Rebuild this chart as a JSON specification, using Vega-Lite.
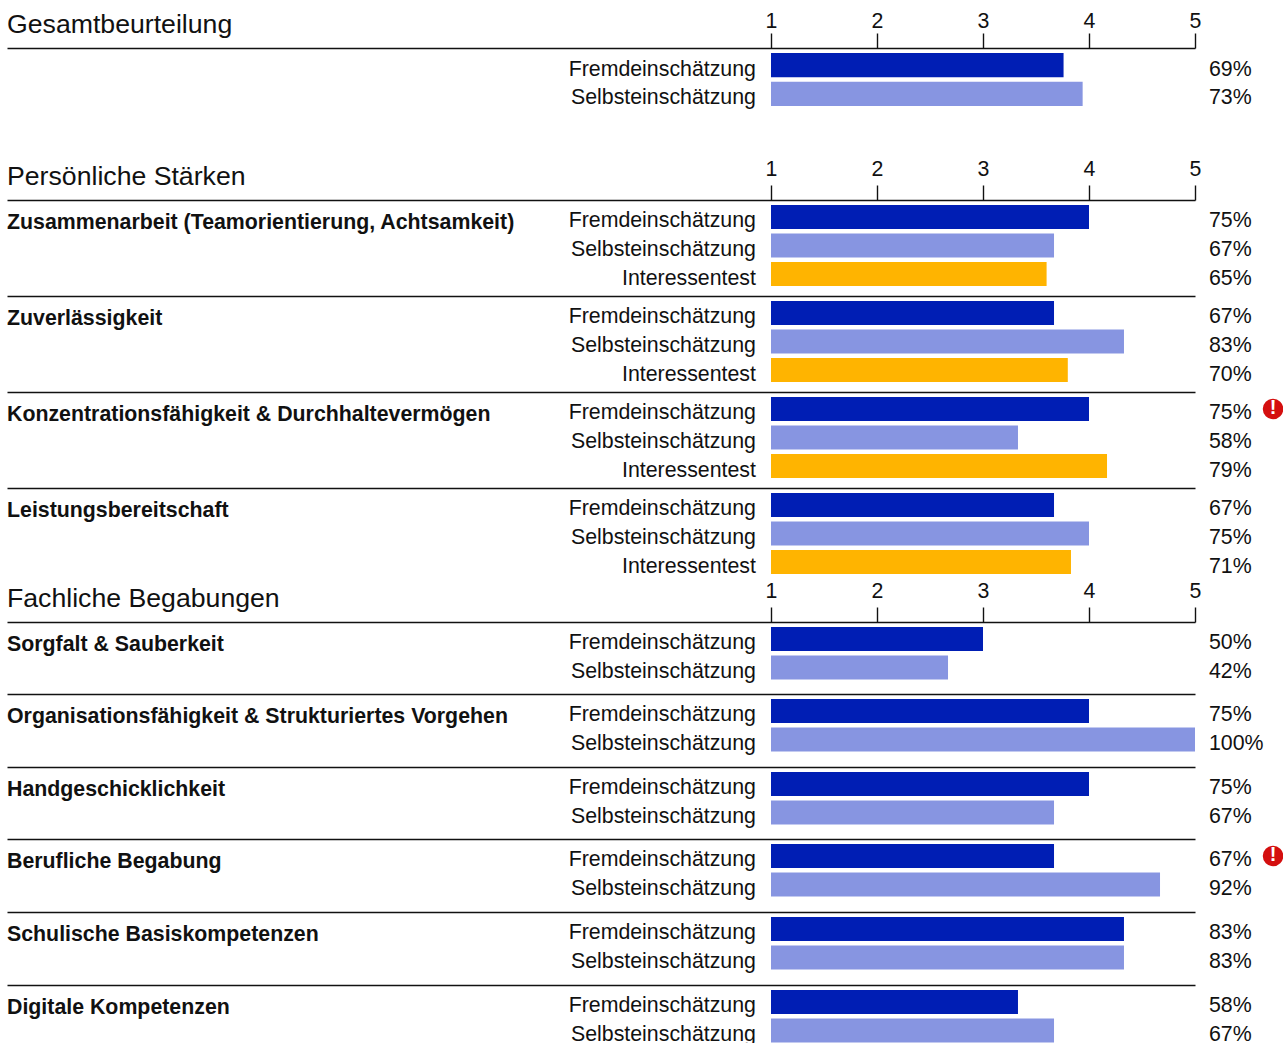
{"$schema":"https://vega.github.io/schema/vega-lite/v6.json","padding":{"left":6,"top":10,"right":0,"bottom":0},"spacing":0,"background":"white",
"config":{"view":{"stroke":null},"font":"Liberation Sans","concat":{"spacing":0},"text":{"font":"Liberation Sans","fontSize":21.33,"color":"#111111"}},
"datasets":{"rows":[
{"group":"Gesamtbeurteilung","title":"","source":"Fremdeinschätzung","score":3.76,"pct":"69%"},
{"group":"Gesamtbeurteilung","title":"","source":"Selbsteinschätzung","score":3.94,"pct":"73%"},
{"group":"Zusammenarbeit","title":"Zusammenarbeit (Teamorientierung, Achtsamkeit)","source":"Fremdeinschätzung","score":4,"pct":"75%"},
{"group":"Zusammenarbeit","title":"","source":"Selbsteinschätzung","score":3.67,"pct":"67%"},
{"group":"Zusammenarbeit","title":"","source":"Interessentest","score":3.6,"pct":"65%"},
{"group":"Zuverlässigkeit","title":"Zuverlässigkeit","source":"Fremdeinschätzung","score":3.67,"pct":"67%"},
{"group":"Zuverlässigkeit","title":"","source":"Selbsteinschätzung","score":4.33,"pct":"83%"},
{"group":"Zuverlässigkeit","title":"","source":"Interessentest","score":3.8,"pct":"70%"},
{"group":"Konzentration","title":"Konzentrationsfähigkeit & Durchhaltevermögen","source":"Fremdeinschätzung","score":4,"pct":"75%","flag":true},
{"group":"Konzentration","title":"","source":"Selbsteinschätzung","score":3.33,"pct":"58%"},
{"group":"Konzentration","title":"","source":"Interessentest","score":4.17,"pct":"79%"},
{"group":"Leistung","title":"Leistungsbereitschaft","source":"Fremdeinschätzung","score":3.67,"pct":"67%"},
{"group":"Leistung","title":"","source":"Selbsteinschätzung","score":4,"pct":"75%"},
{"group":"Leistung","title":"","source":"Interessentest","score":3.83,"pct":"71%"},
{"group":"Sorgfalt","title":"Sorgfalt & Sauberkeit","source":"Fremdeinschätzung","score":3,"pct":"50%"},
{"group":"Sorgfalt","title":"","source":"Selbsteinschätzung","score":2.67,"pct":"42%"},
{"group":"Organisation","title":"Organisationsfähigkeit & Strukturiertes Vorgehen","source":"Fremdeinschätzung","score":4,"pct":"75%"},
{"group":"Organisation","title":"","source":"Selbsteinschätzung","score":5,"pct":"100%"},
{"group":"Hand","title":"Handgeschicklichkeit","source":"Fremdeinschätzung","score":4,"pct":"75%"},
{"group":"Hand","title":"","source":"Selbsteinschätzung","score":3.67,"pct":"67%"},
{"group":"Beruf","title":"Berufliche Begabung","source":"Fremdeinschätzung","score":3.67,"pct":"67%","flag":true},
{"group":"Beruf","title":"","source":"Selbsteinschätzung","score":4.67,"pct":"92%"},
{"group":"Schule","title":"Schulische Basiskompetenzen","source":"Fremdeinschätzung","score":4.33,"pct":"83%"},
{"group":"Schule","title":"","source":"Selbsteinschätzung","score":4.33,"pct":"83%"},
{"group":"Digital","title":"Digitale Kompetenzen","source":"Fremdeinschätzung","score":3.33,"pct":"58%"},
{"group":"Digital","title":"","source":"Selbsteinschätzung","score":3.67,"pct":"67%"}
]},
"data":{"name":"rows"},
"vconcat":[
{"width":1188,"height":110,"transform":[{"filter":"datum.group=='Gesamtbeurteilung'"}],"encoding":{"y":{"field":"source","type":"nominal","axis":null,"sort":null,"scale":{"domain":["Fremdeinschätzung","Selbsteinschätzung"],"range":[5,58],"paddingInner":0.158,"paddingOuter":0}}},"layer":[
{"mark":{"type":"bar","clip":false},"encoding":{"x":{"field":"score","type":"quantitative","scale":{"domain":[-6.2075,5],"zero":false,"nice":false},"axis":{"orient":"top","values":[1,2,3,4,5],"format":"d","labelFlush":false,"labelOverlap":false,"grid":false,"domainColor":"#111111","domainWidth":1.4,"tickColor":"#111111","tickWidth":1.4,"tickSize":15,"labelFontSize":21.33,"labelColor":"#111111","labelPadding":2,"labelFont":"Liberation Sans","title":"Gesamtbeurteilung","titleFont":"Liberation Sans","titleFontSize":26.67,"titleFontWeight":"normal","titleColor":"#111111","titleX":-0.5,"titleY":-16,"titleAlign":"left","titleBaseline":"alphabetic","titleAnchor":"start"}},"x2":{"datum":1},"color":{"field":"source","legend":null,"scale":{"domain":["Fremdeinschätzung","Selbsteinschätzung","Interessentest"],"range":["#001EB4","#8795E1","#FFB400"]}}}},
{"mark":{"type":"text","align":"right","dy":4.5},"encoding":{"x":{"datum":0.858},"text":{"field":"source"}}},
{"mark":{"type":"text","align":"left","dy":4.5},"encoding":{"x":{"datum":5.132},"text":{"field":"pct"}}}
]},
{"width":1188,"height":96,"transform":[{"filter":"datum.group=='Zusammenarbeit'"}],"encoding":{"y":{"field":"source","type":"nominal","axis":null,"sort":null,"scale":{"domain":["Fremdeinschätzung","Selbsteinschätzung","Interessentest"],"range":[5,86],"paddingInner":0.158,"paddingOuter":0}}},"layer":[
{"mark":{"type":"bar","clip":false},"encoding":{"x":{"field":"score","type":"quantitative","scale":{"domain":[-6.2075,5],"zero":false,"nice":false},"axis":{"orient":"top","values":[1,2,3,4,5],"format":"d","labelFlush":false,"labelOverlap":false,"grid":false,"domainColor":"#111111","domainWidth":1.4,"tickColor":"#111111","tickWidth":1.4,"tickSize":15,"labelFontSize":21.33,"labelColor":"#111111","labelPadding":6,"labelFont":"Liberation Sans","title":"Persönliche Stärken","titleFont":"Liberation Sans","titleFontSize":26.67,"titleFontWeight":"normal","titleColor":"#111111","titleX":-0.5,"titleY":-16,"titleAlign":"left","titleBaseline":"alphabetic","titleAnchor":"start"}},"x2":{"datum":1},"color":{"field":"source","legend":null,"scale":{"domain":["Fremdeinschätzung","Selbsteinschätzung","Interessentest"],"range":["#001EB4","#8795E1","#FFB400"]}}}},
{"mark":{"type":"text","align":"right","dy":4.5},"encoding":{"x":{"datum":0.858},"text":{"field":"source"}}},
{"mark":{"type":"text","align":"left","dy":4.5},"encoding":{"x":{"datum":5.132},"text":{"field":"pct"}}},
{"mark":{"type":"text","align":"left","fontWeight":"bold","dy":6},"encoding":{"x":{"datum":-6.2075},"text":{"field":"title"}}}
]},
{"width":1188,"height":96,"transform":[{"filter":"datum.group=='Zuverlässigkeit'"}],"encoding":{"y":{"field":"source","type":"nominal","axis":null,"sort":null,"scale":{"domain":["Fremdeinschätzung","Selbsteinschätzung","Interessentest"],"range":[5,86],"paddingInner":0.158,"paddingOuter":0}}},"layer":[
{"mark":{"type":"bar","clip":false},"encoding":{"x":{"field":"score","type":"quantitative","scale":{"domain":[-6.2075,5],"zero":false,"nice":false},"axis":{"orient":"top","values":[],"grid":false,"ticks":false,"labels":false,"domainColor":"#111111","domainWidth":1.4,"title":null}},"x2":{"datum":1},"color":{"field":"source","legend":null,"scale":{"domain":["Fremdeinschätzung","Selbsteinschätzung","Interessentest"],"range":["#001EB4","#8795E1","#FFB400"]}}}},
{"mark":{"type":"text","align":"right","dy":4.5},"encoding":{"x":{"datum":0.858},"text":{"field":"source"}}},
{"mark":{"type":"text","align":"left","dy":4.5},"encoding":{"x":{"datum":5.132},"text":{"field":"pct"}}},
{"mark":{"type":"text","align":"left","fontWeight":"bold","dy":6},"encoding":{"x":{"datum":-6.2075},"text":{"field":"title"}}}
]},
{"width":1188,"height":96,"transform":[{"filter":"datum.group=='Konzentration'"}],"encoding":{"y":{"field":"source","type":"nominal","axis":null,"sort":null,"scale":{"domain":["Fremdeinschätzung","Selbsteinschätzung","Interessentest"],"range":[5,86],"paddingInner":0.158,"paddingOuter":0}}},"layer":[
{"mark":{"type":"bar","clip":false},"encoding":{"x":{"field":"score","type":"quantitative","scale":{"domain":[-6.2075,5],"zero":false,"nice":false},"axis":{"orient":"top","values":[],"grid":false,"ticks":false,"labels":false,"domainColor":"#111111","domainWidth":1.4,"title":null}},"x2":{"datum":1},"color":{"field":"source","legend":null,"scale":{"domain":["Fremdeinschätzung","Selbsteinschätzung","Interessentest"],"range":["#001EB4","#8795E1","#FFB400"]}}}},
{"mark":{"type":"text","align":"right","dy":4.5},"encoding":{"x":{"datum":0.858},"text":{"field":"source"}}},
{"mark":{"type":"text","align":"left","dy":4.5},"encoding":{"x":{"datum":5.132},"text":{"field":"pct"}}},
{"mark":{"type":"text","align":"left","fontWeight":"bold","dy":6},"encoding":{"x":{"datum":-6.2075},"text":{"field":"title"}}},
{"transform":[{"filter":"datum.flag"}],"mark":{"type":"point","filled":true,"opacity":1,"size":420,"color":"#D40F0F","dy":-1},"encoding":{"x":{"datum":5.736}}},
{"transform":[{"filter":"datum.flag"}],"mark":{"type":"text","text":"!","fontWeight":"bold","fontSize":20,"color":"white","dy":-1},"encoding":{"x":{"datum":5.736}}}
]},
{"width":1188,"height":92,"transform":[{"filter":"datum.group=='Leistung'"}],"encoding":{"y":{"field":"source","type":"nominal","axis":null,"sort":null,"scale":{"domain":["Fremdeinschätzung","Selbsteinschätzung","Interessentest"],"range":[5,86],"paddingInner":0.158,"paddingOuter":0}}},"layer":[
{"mark":{"type":"bar","clip":false},"encoding":{"x":{"field":"score","type":"quantitative","scale":{"domain":[-6.2075,5],"zero":false,"nice":false},"axis":{"orient":"top","values":[],"grid":false,"ticks":false,"labels":false,"domainColor":"#111111","domainWidth":1.4,"title":null}},"x2":{"datum":1},"color":{"field":"source","legend":null,"scale":{"domain":["Fremdeinschätzung","Selbsteinschätzung","Interessentest"],"range":["#001EB4","#8795E1","#FFB400"]}}}},
{"mark":{"type":"text","align":"right","dy":4.5},"encoding":{"x":{"datum":0.858},"text":{"field":"source"}}},
{"mark":{"type":"text","align":"left","dy":4.5},"encoding":{"x":{"datum":5.132},"text":{"field":"pct"}}},
{"mark":{"type":"text","align":"left","fontWeight":"bold","dy":6},"encoding":{"x":{"datum":-6.2075},"text":{"field":"title"}}}
]},
{"width":1188,"height":72,"transform":[{"filter":"datum.group=='Sorgfalt'"}],"encoding":{"y":{"field":"source","type":"nominal","axis":null,"sort":null,"scale":{"domain":["Fremdeinschätzung","Selbsteinschätzung"],"range":[5,57.5],"paddingInner":0.158,"paddingOuter":0}}},"layer":[
{"mark":{"type":"bar","clip":false},"encoding":{"x":{"field":"score","type":"quantitative","scale":{"domain":[-6.2075,5],"zero":false,"nice":false},"axis":{"orient":"top","values":[1,2,3,4,5],"format":"d","labelFlush":false,"labelOverlap":false,"grid":false,"domainColor":"#111111","domainWidth":1.4,"tickColor":"#111111","tickWidth":1.4,"tickSize":15,"labelFontSize":21.33,"labelColor":"#111111","labelPadding":6,"labelFont":"Liberation Sans","title":"Fachliche Begabungen","titleFont":"Liberation Sans","titleFontSize":26.67,"titleFontWeight":"normal","titleColor":"#111111","titleX":-0.5,"titleY":-16,"titleAlign":"left","titleBaseline":"alphabetic","titleAnchor":"start"}},"x2":{"datum":1},"color":{"field":"source","legend":null,"scale":{"domain":["Fremdeinschätzung","Selbsteinschätzung","Interessentest"],"range":["#001EB4","#8795E1","#FFB400"]}}}},
{"mark":{"type":"text","align":"right","dy":4.5},"encoding":{"x":{"datum":0.858},"text":{"field":"source"}}},
{"mark":{"type":"text","align":"left","dy":4.5},"encoding":{"x":{"datum":5.132},"text":{"field":"pct"}}},
{"mark":{"type":"text","align":"left","fontWeight":"bold","dy":6},"encoding":{"x":{"datum":-6.2075},"text":{"field":"title"}}}
]},
{"width":1188,"height":73,"transform":[{"filter":"datum.group=='Organisation'"}],"encoding":{"y":{"field":"source","type":"nominal","axis":null,"sort":null,"scale":{"domain":["Fremdeinschätzung","Selbsteinschätzung"],"range":[5,57.5],"paddingInner":0.158,"paddingOuter":0}}},"layer":[
{"mark":{"type":"bar","clip":false},"encoding":{"x":{"field":"score","type":"quantitative","scale":{"domain":[-6.2075,5],"zero":false,"nice":false},"axis":{"orient":"top","values":[],"grid":false,"ticks":false,"labels":false,"domainColor":"#111111","domainWidth":1.4,"title":null}},"x2":{"datum":1},"color":{"field":"source","legend":null,"scale":{"domain":["Fremdeinschätzung","Selbsteinschätzung","Interessentest"],"range":["#001EB4","#8795E1","#FFB400"]}}}},
{"mark":{"type":"text","align":"right","dy":4.5},"encoding":{"x":{"datum":0.858},"text":{"field":"source"}}},
{"mark":{"type":"text","align":"left","dy":4.5},"encoding":{"x":{"datum":5.132},"text":{"field":"pct"}}},
{"mark":{"type":"text","align":"left","fontWeight":"bold","dy":6},"encoding":{"x":{"datum":-6.2075},"text":{"field":"title"}}}
]},
{"width":1188,"height":72,"transform":[{"filter":"datum.group=='Hand'"}],"encoding":{"y":{"field":"source","type":"nominal","axis":null,"sort":null,"scale":{"domain":["Fremdeinschätzung","Selbsteinschätzung"],"range":[5,57.5],"paddingInner":0.158,"paddingOuter":0}}},"layer":[
{"mark":{"type":"bar","clip":false},"encoding":{"x":{"field":"score","type":"quantitative","scale":{"domain":[-6.2075,5],"zero":false,"nice":false},"axis":{"orient":"top","values":[],"grid":false,"ticks":false,"labels":false,"domainColor":"#111111","domainWidth":1.4,"title":null}},"x2":{"datum":1},"color":{"field":"source","legend":null,"scale":{"domain":["Fremdeinschätzung","Selbsteinschätzung","Interessentest"],"range":["#001EB4","#8795E1","#FFB400"]}}}},
{"mark":{"type":"text","align":"right","dy":4.5},"encoding":{"x":{"datum":0.858},"text":{"field":"source"}}},
{"mark":{"type":"text","align":"left","dy":4.5},"encoding":{"x":{"datum":5.132},"text":{"field":"pct"}}},
{"mark":{"type":"text","align":"left","fontWeight":"bold","dy":6},"encoding":{"x":{"datum":-6.2075},"text":{"field":"title"}}}
]},
{"width":1188,"height":73,"transform":[{"filter":"datum.group=='Beruf'"}],"encoding":{"y":{"field":"source","type":"nominal","axis":null,"sort":null,"scale":{"domain":["Fremdeinschätzung","Selbsteinschätzung"],"range":[5,57.5],"paddingInner":0.158,"paddingOuter":0}}},"layer":[
{"mark":{"type":"bar","clip":false},"encoding":{"x":{"field":"score","type":"quantitative","scale":{"domain":[-6.2075,5],"zero":false,"nice":false},"axis":{"orient":"top","values":[],"grid":false,"ticks":false,"labels":false,"domainColor":"#111111","domainWidth":1.4,"title":null}},"x2":{"datum":1},"color":{"field":"source","legend":null,"scale":{"domain":["Fremdeinschätzung","Selbsteinschätzung","Interessentest"],"range":["#001EB4","#8795E1","#FFB400"]}}}},
{"mark":{"type":"text","align":"right","dy":4.5},"encoding":{"x":{"datum":0.858},"text":{"field":"source"}}},
{"mark":{"type":"text","align":"left","dy":4.5},"encoding":{"x":{"datum":5.132},"text":{"field":"pct"}}},
{"mark":{"type":"text","align":"left","fontWeight":"bold","dy":6},"encoding":{"x":{"datum":-6.2075},"text":{"field":"title"}}},
{"transform":[{"filter":"datum.flag"}],"mark":{"type":"point","filled":true,"opacity":1,"size":420,"color":"#D40F0F","dy":-1},"encoding":{"x":{"datum":5.736}}},
{"transform":[{"filter":"datum.flag"}],"mark":{"type":"text","text":"!","fontWeight":"bold","fontSize":20,"color":"white","dy":-1},"encoding":{"x":{"datum":5.736}}}
]},
{"width":1188,"height":73,"transform":[{"filter":"datum.group=='Schule'"}],"encoding":{"y":{"field":"source","type":"nominal","axis":null,"sort":null,"scale":{"domain":["Fremdeinschätzung","Selbsteinschätzung"],"range":[5,57.5],"paddingInner":0.158,"paddingOuter":0}}},"layer":[
{"mark":{"type":"bar","clip":false},"encoding":{"x":{"field":"score","type":"quantitative","scale":{"domain":[-6.2075,5],"zero":false,"nice":false},"axis":{"orient":"top","values":[],"grid":false,"ticks":false,"labels":false,"domainColor":"#111111","domainWidth":1.4,"title":null}},"x2":{"datum":1},"color":{"field":"source","legend":null,"scale":{"domain":["Fremdeinschätzung","Selbsteinschätzung","Interessentest"],"range":["#001EB4","#8795E1","#FFB400"]}}}},
{"mark":{"type":"text","align":"right","dy":4.5},"encoding":{"x":{"datum":0.858},"text":{"field":"source"}}},
{"mark":{"type":"text","align":"left","dy":4.5},"encoding":{"x":{"datum":5.132},"text":{"field":"pct"}}},
{"mark":{"type":"text","align":"left","fontWeight":"bold","dy":6},"encoding":{"x":{"datum":-6.2075},"text":{"field":"title"}}}
]},
{"width":1188,"height":58,"transform":[{"filter":"datum.group=='Digital'"}],"encoding":{"y":{"field":"source","type":"nominal","axis":null,"sort":null,"scale":{"domain":["Fremdeinschätzung","Selbsteinschätzung"],"range":[5,57.5],"paddingInner":0.158,"paddingOuter":0}}},"layer":[
{"mark":{"type":"bar","clip":false},"encoding":{"x":{"field":"score","type":"quantitative","scale":{"domain":[-6.2075,5],"zero":false,"nice":false},"axis":{"orient":"top","values":[],"grid":false,"ticks":false,"labels":false,"domainColor":"#111111","domainWidth":1.4,"title":null}},"x2":{"datum":1},"color":{"field":"source","legend":null,"scale":{"domain":["Fremdeinschätzung","Selbsteinschätzung","Interessentest"],"range":["#001EB4","#8795E1","#FFB400"]}}}},
{"mark":{"type":"text","align":"right","dy":4.5},"encoding":{"x":{"datum":0.858},"text":{"field":"source"}}},
{"mark":{"type":"text","align":"left","dy":4.5},"encoding":{"x":{"datum":5.132},"text":{"field":"pct"}}},
{"mark":{"type":"text","align":"left","fontWeight":"bold","dy":6},"encoding":{"x":{"datum":-6.2075},"text":{"field":"title"}}}
]}
]}
